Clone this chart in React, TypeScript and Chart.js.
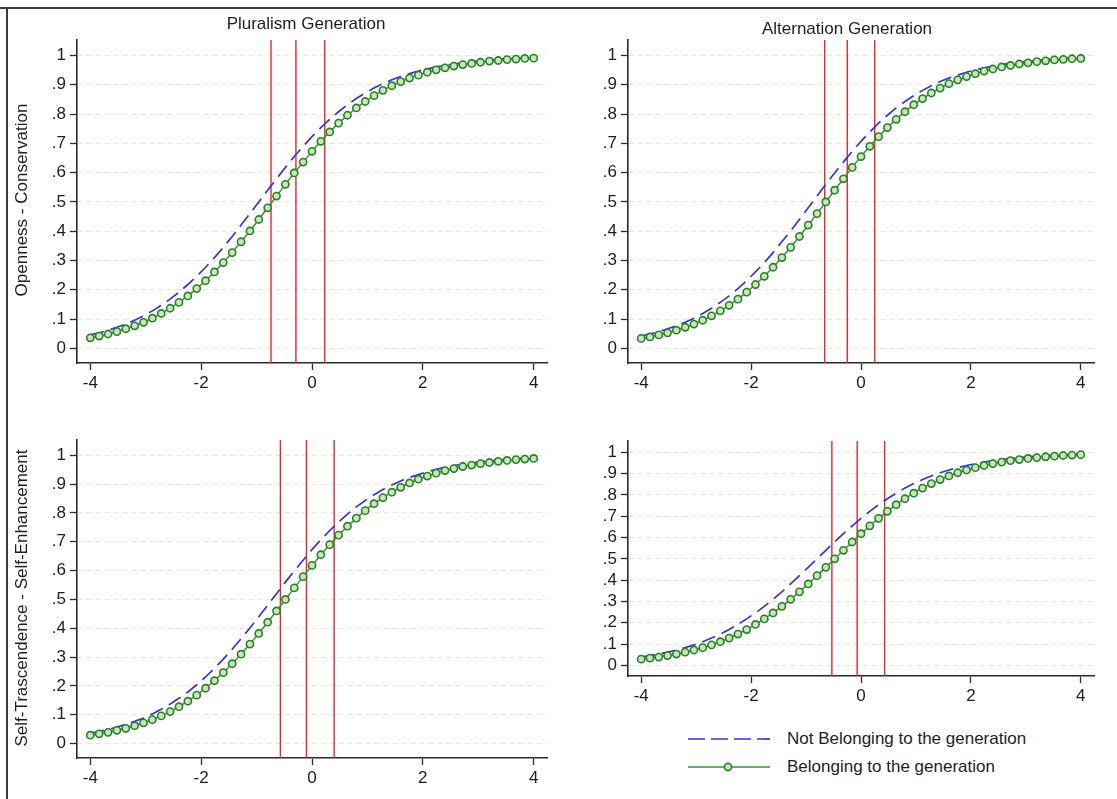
import React, { useEffect, useRef } from "react";
import { Chart, registerables } from "chart.js";
Chart.register(...registerables);

// ---------- data ----------
const xValues = [-4, -3.84, -3.68, -3.52, -3.36, -3.2, -3.04, -2.88, -2.72, -2.56, -2.4, -2.24, -2.08, -1.92, -1.76, -1.6, -1.44, -1.28, -1.12, -0.96, -0.8, -0.64, -0.48, -0.32, -0.16, 0, 0.16, 0.32, 0.48, 0.64, 0.8, 0.96, 1.12, 1.28, 1.44, 1.6, 1.76, 1.92, 2.08, 2.24, 2.4, 2.56, 2.72, 2.88, 3.04, 3.2, 3.36, 3.52, 3.68, 3.84, 4];

const yTickValues = [0, 0.1, 0.2, 0.3, 0.4, 0.5, 0.6, 0.7, 0.8, 0.9, 1];
const yTickLabels = ["0", ".1", ".2", ".3", ".4", ".5", ".6", ".7", ".8", ".9", "1"];
const xTickValues = [-4, -2, 0, 2, 4];
const xTickLabels = ["-4", "-2", "0", "2", "4"];

const seriesLabels = ["Not Belonging to the generation", "Belonging to the generation"];
const columnTitles = ["Pluralism Generation", "Alternation Generation"];
const rowTitles = ["Openness - Conservation", "Self-Trascendence - Self-Enhancement"];

// Pluralism, Openness - Conservation
const plTopGreen = [0.036, 0.042, 0.049, 0.057, 0.067, 0.077, 0.089, 0.103, 0.119, 0.137,
  0.157, 0.179, 0.204, 0.231, 0.261, 0.293, 0.327, 0.364, 0.401, 0.440,
  0.480, 0.520, 0.560, 0.599, 0.636, 0.673, 0.707, 0.739, 0.769, 0.796,
  0.821, 0.843, 0.863, 0.881, 0.897, 0.911, 0.923, 0.933, 0.943, 0.951,
  0.958, 0.964, 0.969, 0.973, 0.977, 0.981, 0.983, 0.986, 0.988, 0.990, 0.991];
const plTopBlue = [0.046, 0.053, 0.062, 0.072, 0.083, 0.096, 0.111, 0.128, 0.147, 0.168,
  0.192, 0.218, 0.246, 0.277, 0.310, 0.345, 0.382, 0.421, 0.460, 0.500,
  0.540, 0.579, 0.618, 0.655, 0.690, 0.723, 0.754, 0.782, 0.808, 0.832,
  0.853, 0.872, 0.889, 0.904, 0.917, 0.928, 0.938, 0.947, 0.954, 0.961,
  0.966, 0.971, 0.975, 0.979, 0.982, 0.985, 0.987, 0.989, 0.990, 0.992, 0.993];
const plTopCuts = [-0.74, -0.29, 0.23];

// Alternation, Openness - Conservation
const alTopGreen = [0.034, 0.039, 0.046, 0.053, 0.062, 0.072, 0.083, 0.096, 0.111, 0.128,
  0.147, 0.168, 0.192, 0.218, 0.246, 0.277, 0.310, 0.345, 0.382, 0.421,
  0.460, 0.500, 0.540, 0.579, 0.618, 0.655, 0.690, 0.723, 0.754, 0.782,
  0.808, 0.832, 0.853, 0.872, 0.889, 0.904, 0.917, 0.928, 0.938, 0.947,
  0.954, 0.961, 0.966, 0.971, 0.975, 0.979, 0.982, 0.985, 0.987, 0.989, 0.990];
const alTopBlue = [0.042, 0.049, 0.057, 0.067, 0.077, 0.089, 0.103, 0.119, 0.137, 0.157,
  0.179, 0.204, 0.231, 0.261, 0.293, 0.327, 0.364, 0.401, 0.440, 0.480,
  0.520, 0.560, 0.599, 0.636, 0.673, 0.707, 0.739, 0.769, 0.796, 0.821,
  0.843, 0.863, 0.881, 0.897, 0.911, 0.923, 0.933, 0.943, 0.951, 0.958,
  0.964, 0.969, 0.973, 0.977, 0.981, 0.983, 0.986, 0.988, 0.990, 0.991, 0.992];
const alTopCuts = [-0.66, -0.25, 0.25];

// Pluralism, Self-Trascendence - Self-Enhancement
const plBotGreen = [0.029, 0.034, 0.039, 0.046, 0.053, 0.062, 0.072, 0.083, 0.096, 0.111,
  0.128, 0.147, 0.168, 0.192, 0.218, 0.246, 0.277, 0.310, 0.345, 0.382,
  0.421, 0.460, 0.500, 0.540, 0.579, 0.618, 0.655, 0.690, 0.723, 0.754,
  0.782, 0.808, 0.832, 0.853, 0.872, 0.889, 0.904, 0.917, 0.928, 0.938,
  0.947, 0.954, 0.961, 0.966, 0.971, 0.975, 0.979, 0.982, 0.985, 0.987, 0.989];
const plBotBlue = [0.036, 0.042, 0.049, 0.057, 0.067, 0.077, 0.089, 0.103, 0.119, 0.137,
  0.157, 0.179, 0.204, 0.231, 0.261, 0.293, 0.327, 0.364, 0.401, 0.440,
  0.480, 0.520, 0.560, 0.599, 0.636, 0.673, 0.707, 0.739, 0.769, 0.796,
  0.821, 0.843, 0.863, 0.881, 0.897, 0.911, 0.923, 0.933, 0.943, 0.951,
  0.958, 0.964, 0.969, 0.973, 0.977, 0.981, 0.983, 0.986, 0.988, 0.990, 0.991];
const plBotCuts = [-0.57, -0.1, 0.4];

// Alternation, Self-Trascendence - Self-Enhancement
const alBotGreen = [0.029, 0.034, 0.039, 0.046, 0.053, 0.062, 0.072, 0.083, 0.096, 0.111,
  0.128, 0.147, 0.168, 0.192, 0.218, 0.246, 0.277, 0.310, 0.345, 0.382,
  0.421, 0.460, 0.500, 0.540, 0.579, 0.618, 0.655, 0.690, 0.723, 0.754,
  0.782, 0.808, 0.832, 0.853, 0.872, 0.889, 0.904, 0.917, 0.928, 0.938,
  0.947, 0.954, 0.961, 0.966, 0.971, 0.975, 0.979, 0.982, 0.985, 0.987, 0.989];
const alBotBlue = [0.039, 0.046, 0.053, 0.062, 0.072, 0.083, 0.096, 0.111, 0.128, 0.147,
  0.168, 0.192, 0.218, 0.246, 0.277, 0.310, 0.345, 0.382, 0.421, 0.460,
  0.500, 0.540, 0.579, 0.618, 0.655, 0.690, 0.723, 0.754, 0.782, 0.808,
  0.832, 0.853, 0.872, 0.889, 0.904, 0.917, 0.928, 0.938, 0.947, 0.954,
  0.961, 0.966, 0.971, 0.975, 0.979, 0.982, 0.985, 0.987, 0.989, 0.990, 0.992];
const alBotCuts = [-0.53, -0.07, 0.43];

// ---------- styles ----------
const FONT = "'Liberation Sans', Arial, Helvetica, sans-serif";
const TXT = "#1e1e1e";
const AXIS = "#2b2b2b";
const RED = "#e02a2a";
const BLUE = "#3535d0";
const GREEN_LINE = "#3f8f3a";
const GREEN_RING = "#2a7f2a";
const GREEN_FILL = "#c9e6b8";
const Y_MIN = -0.05;
const Y_MAX = 1.053;
const X_MIN = -4.24;
const X_MAX = 4.24;

type PanelProps = {
  left: number; top: number; width: number; height: number;
  areaLeft: number; areaTop: number; areaRight: number; areaBottom: number;
  green: number[]; blue: number[]; cuts: number[];
};

function Panel(p: PanelProps) {
  const ref = useRef<HTMLCanvasElement | null>(null);
  useEffect(() => {
    if (!ref.current) return;
    const cutSets = p.cuts.map((c) => ({
      data: [{ x: c, y: Y_MIN }, { x: c, y: Y_MAX }],
      borderColor: RED,
      borderWidth: 1.4,
      pointRadius: 0,
      order: 3,
    }));
    const chart = new Chart(ref.current, {
      type: "line",
      data: {
        datasets: [
          ...cutSets,
          {
            label: seriesLabels[0],
            data: xValues.map((x, i) => ({ x, y: p.blue[i] })),
            borderColor: BLUE,
            borderWidth: 1.7,
            borderDash: [14, 7],
            pointRadius: 0,
            order: 2,
          },
          {
            label: seriesLabels[1],
            data: xValues.map((x, i) => ({ x, y: p.green[i] })),
            borderColor: GREEN_LINE,
            borderWidth: 1.5,
            pointRadius: 3.6,
            pointBorderWidth: 1.6,
            pointBorderColor: GREEN_RING,
            pointBackgroundColor: GREEN_FILL,
            order: 1,
          },
        ] as any,
      },
      options: {
        animation: false,
        responsive: false,
        maintainAspectRatio: false,
        events: [],
        layout: { padding: { left: 0, top: p.areaTop, right: p.width - p.areaRight, bottom: 0 } },
        plugins: { legend: { display: false }, tooltip: { enabled: false }, title: { display: false } },
        scales: {
          x: {
            type: "linear",
            min: X_MIN,
            max: X_MAX,
            afterBuildTicks: (s: any) => { s.ticks = xTickValues.map((v) => ({ value: v })); },
            afterFit: (s: any) => { s.height = p.height - p.areaBottom; },
            ticks: {
              callback: (_v: any, i: number) => xTickLabels[i],
              font: { family: FONT, size: 17 },
              color: TXT,
              padding: 3,
              maxRotation: 0,
              autoSkip: false,
            },
            grid: { drawOnChartArea: false, drawTicks: true, tickLength: 7, tickColor: AXIS, tickWidth: 1.3 },
            border: { display: true, color: AXIS, width: 1.6 },
          },
          y: {
            type: "linear",
            min: Y_MIN,
            max: Y_MAX,
            afterBuildTicks: (s: any) => { s.ticks = yTickValues.map((v) => ({ value: v })); },
            afterFit: (s: any) => { s.width = p.areaLeft; },
            ticks: {
              callback: (_v: any, i: number) => yTickLabels[i],
              font: { family: FONT, size: 17 },
              color: TXT,
              padding: 4,
              autoSkip: false,
            },
            grid: { color: "#e4e4e4", lineWidth: 1, drawTicks: true, tickLength: 7, tickColor: AXIS, tickWidth: 1.3, tickBorderDash: [] },
            border: { display: true, color: AXIS, width: 1.6, dash: [5, 4] },
          },
        },
      } as any,
    });
    return () => chart.destroy();
  }, []);
  return (
    <canvas
      ref={ref}
      width={p.width}
      height={p.height}
      style={{ position: "absolute", left: p.left, top: p.top, width: p.width, height: p.height }}
    />
  );
}

const textBase: React.CSSProperties = {
  position: "absolute",
  fontFamily: FONT,
  fontSize: 17,
  color: TXT,
  whiteSpace: "nowrap",
  lineHeight: "20px",
};

function LegendLine({ dashed }: { dashed: boolean }) {
  return (
    <svg width={90} height={14} style={{ position: "absolute", left: 0, top: -7 }}>
      {dashed ? (
        <line x1={0} y1={7} x2={82} y2={7} stroke={BLUE} strokeWidth={1.7} strokeDasharray="17 6" />
      ) : (
        <>
          <line x1={0} y1={7} x2={82} y2={7} stroke={GREEN_LINE} strokeWidth={1.5} />
          <circle cx={40} cy={7} r={3.6} stroke={GREEN_RING} strokeWidth={1.6} fill={GREEN_FILL} />
        </>
      )}
    </svg>
  );
}

export default function App() {
  return (
    <div style={{ position: "fixed", left: 0, top: 0, width: 1117, height: 799, background: "#fff", overflow: "hidden" }}>
      <Panel left={0} top={0} width={560} height={400} areaLeft={77} areaTop={40} areaRight={547} areaBottom={363}
        green={plTopGreen} blue={plTopBlue} cuts={plTopCuts} />
      <Panel left={560} top={0} width={557} height={400} areaLeft={68} areaTop={40} areaRight={534} areaBottom={363}
        green={alTopGreen} blue={alTopBlue} cuts={alTopCuts} />
      <Panel left={0} top={400} width={560} height={399} areaLeft={77} areaTop={40} areaRight={547} areaBottom={358}
        green={plBotGreen} blue={plBotBlue} cuts={plBotCuts} />
      <Panel left={560} top={400} width={557} height={310} areaLeft={68} areaTop={41} areaRight={534} areaBottom={276}
        green={alBotGreen} blue={alBotBlue} cuts={alBotCuts} />

      {/* frame */}
      <div style={{ position: "absolute", left: 0, top: 7, width: 1117, height: 0, borderTop: "2px solid #3a3a3a" }} />
      <div style={{ position: "absolute", left: 6, top: 7, width: 0, height: 800, borderLeft: "2px solid #3a3a3a" }} />

      {/* column titles */}
      <div style={{ ...textBase, left: 306, top: 14, transform: "translateX(-50%)" }}>{columnTitles[0]}</div>
      <div style={{ ...textBase, left: 847, top: 19, transform: "translateX(-50%)" }}>{columnTitles[1]}</div>

      {/* row titles */}
      <div style={{ ...textBase, left: 22, top: 200, transform: "translate(-50%, -50%) rotate(-90deg)" }}>{rowTitles[0]}</div>
      <div style={{ ...textBase, left: 22, top: 598, transform: "translate(-50%, -50%) rotate(-90deg)" }}>{rowTitles[1]}</div>

      {/* legend */}
      <div style={{ position: "absolute", left: 688, top: 739 }}>
        <LegendLine dashed={true} />
      </div>
      <div style={{ ...textBase, left: 787, top: 729 }}>{seriesLabels[0]}</div>
      <div style={{ position: "absolute", left: 688, top: 767 }}>
        <LegendLine dashed={false} />
      </div>
      <div style={{ ...textBase, left: 787, top: 757 }}>{seriesLabels[1]}</div>
    </div>
  );
}
